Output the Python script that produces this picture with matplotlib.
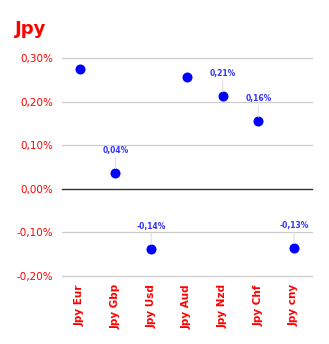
import matplotlib

matplotlib.use('Agg')
import matplotlib.pyplot as plt

pairs = ["Jpy Eur", "Jpy Gbp", "Jpy Usd", "Jpy Aud", "Jpy Nzd", "Jpy Chf", "Jpy cny"]
values = [0.275, 0.037, -0.138, 0.257, 0.213, 0.155, -0.135]
labels = [None, "0,04%", "-0,14%", None, "0,21%", "0,16%", "-0,13%"]
yticks = [0.30, 0.20, 0.10, 0.00, -0.10, -0.20]

fig = plt.figure(figsize=(3.29, 3.44), dpi=100)
ax = fig.add_axes([0.188, 0.198, 0.76, 0.633])

x = list(range(len(pairs)))
ax.scatter(x, values, s=52, color='#0000ff', zorder=3, linewidths=0)

for i, (v, lab) in enumerate(zip(values, labels)):
    if lab is None:
        continue
    ax.annotate(lab, (i, v), xytext=(0, 13), textcoords='offset points',
                ha='center', va='bottom', color='#3333ff', fontsize=5.5,
                fontweight='bold',
                arrowprops=dict(arrowstyle='-', color='#dddddd', lw=0.8,
                                shrinkA=0, shrinkB=3))

ax.set_xlim(-0.5, len(pairs) - 0.5)
ax.set_ylim(-0.20, 0.30)
ax.set_yticks(yticks)
ax.set_yticklabels([("%.2f%%" % t).replace('.', ',') for t in yticks],
                   color='red', fontsize=7.5)
for t in yticks:
    if t == 0:
        ax.axhline(0, color='#333333', lw=1, zorder=2, clip_on=False)
    else:
        ax.axhline(t, color='#cccccc', lw=0.9, zorder=1, clip_on=False)

ax.set_xticks(x)
ax.set_xticklabels(pairs, rotation=90, color='red', fontsize=7.5, fontweight='bold')
ax.tick_params(length=0, pad=6)
ax.tick_params(axis='y', pad=6)
for s in ax.spines.values():
    s.set_visible(False)

fig.text(0.045, 0.915, "Jpy", color='red', fontsize=13, fontweight='bold',
         ha='left', va='center')

plt.savefig('out.png', dpi=100)
